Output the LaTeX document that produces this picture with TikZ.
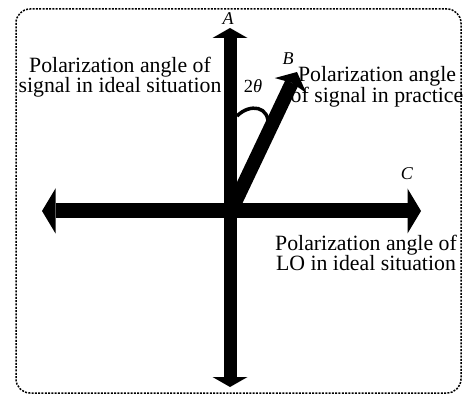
\documentclass[tikz,border=0pt]{standalone}
\usepackage{fontspec}
\setmainfont{Liberation Serif}
\usetikzlibrary{arrows.meta}
\begin{document}
\begin{tikzpicture}[x=1pt,y=-1pt,
  lbl/.style={font=\fontsize{21.8}{20}\selectfont, align=center, inner sep=0pt},
  axlbl/.style={font=\fontsize{18}{20}\selectfont\itshape, inner sep=0pt, anchor=base},
  vaxis/.style={line width=13pt, {Triangle[width=35pt 0 0,length=10pt 0 0,line width=0pt]}-{Triangle[width=35pt 0 0,length=10pt 0 0,line width=0pt]}},
  haxis/.style={line width=15pt, {Triangle[width=45pt 0 0,length=13.5pt 0 0,line width=0pt]}-{Triangle[width=45pt 0 0,length=13.5pt 0 0,line width=0pt]}},
  daxis/.style={line width=14pt, -{Stealth[width=35pt 0 0,length=15pt 0 0,inset=3pt,line width=0pt]}},
  border/.style={line width=1.5pt, dash pattern=on 2pt off 1.3pt, rounded corners=14pt}
]
\useasboundingbox (0,0) rectangle (467,396);
\draw[border] (16,9) rectangle (461,393);
\coordinate (O) at (231,211);
\coordinate (N) at (230,28);
\coordinate (S) at (230,387);
\coordinate (W) at (42,211);
\coordinate (E) at (421,211);
\coordinate (Bt) at (297,72);
\coordinate (arcA) at (237,116);
\coordinate (arcB) at (268,126);
\draw[vaxis] (S) -- (N);
\draw[haxis] (W) -- (E);
\draw[daxis] (O) -- (Bt);
\draw[line width=3.5pt] (arcA) .. controls (250,103) and (270,106) .. (arcB);
\node[axlbl] (A) at (228,25) {A};
\node[axlbl] (B) at (288,65) {B};
\node[axlbl] (C) at (407,180) {C};
\node[axlbl, font=\fontsize{18.5}{20}\selectfont] (th) at (253,93) {2\textit{θ}};
\node[lbl] (ideal) at (120,77) {Polarization angle of\\signal in ideal situation};
\node[lbl] (prac) at (377,87) {Polarization angle\\of signal in practice};
\node[lbl] (lo) at (366,253) {Polarization angle of\\LO in ideal situation};
\end{tikzpicture}
\end{document}
